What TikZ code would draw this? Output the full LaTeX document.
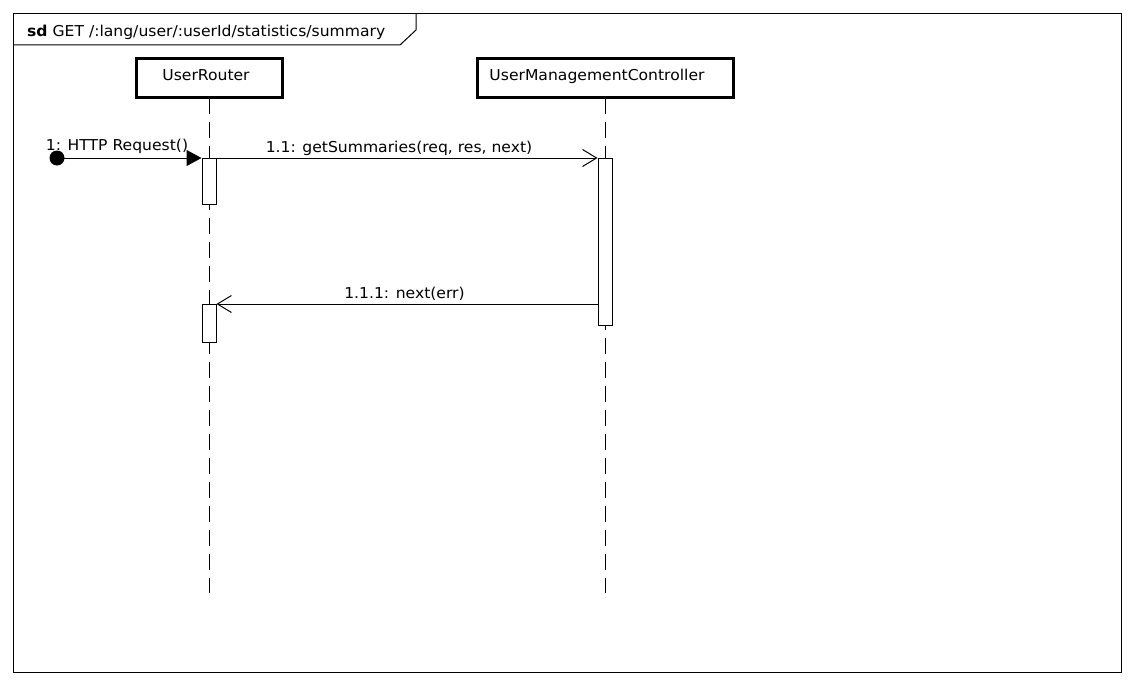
\documentclass[tikz,border=0pt]{standalone}
\usepackage{fontspec}
\setmainfont{DejaVu Sans}[FakeStretch=1.04]
\usetikzlibrary{arrows.meta}

\tikzset{
  thin line/.style={line width=1pt},
  objbox/.style={draw, line width=3pt, minimum width=146pt, minimum height=38.5pt, inner sep=0pt},
  lifeline/.style={line width=1pt, dash pattern=on 16pt off 8pt},
  actbar/.style={draw, fill=white, line width=1pt, minimum width=14pt, inner sep=0pt},
  msgtext/.style={anchor=base, inner sep=0pt},
  syncmsg/.style={line width=1pt, -{Triangle[length=15pt,width=16pt]}},
  asyncmsg/.style={line width=1pt, -{Straight Barb[length=14pt,width=17pt,line width=1pt]}},
}

\begin{document}
\begin{tikzpicture}[x=1pt,y=-1pt,font=\fontsize{15}{17}\selectfont]
\useasboundingbox (0,0) rectangle (1134,685);

% frame with its name tab
\draw[thin line] (13,14) rectangle (1121,672);
\draw[thin line] (13,45) -- (400,45) -- (416,30) -- (416,14);
\node[anchor=base west, inner sep=0pt] (title) at (27,36.5)
  {\textbf{sd} GET /:lang/user/:userId/statistics/summary};

% participants
\node[objbox] (ur) at (209.5,78.25) {};
\node[msgtext] (urname) at (206,80) {UserRouter};
\node[objbox, minimum width=256pt] (umc) at (605.5,78.25) {};
\node[msgtext] (umcname) at (597,80) {UserManagementController};

% lifelines
\coordinate (urend) at (209,593);
\coordinate (umcend) at (605,593);
\draw[lifeline] (209,97.5) -- (urend);
\draw[lifeline] (605,97.5) -- (umcend);

% activation bars
\node[actbar, minimum height=46pt, anchor=north] (ura1) at (209,158) {};
\node[actbar, minimum height=167pt, anchor=north] (umca) at (605,158) {};
\node[actbar, minimum height=38pt, anchor=north] (ura2) at (209,304) {};

% found message
\node[circle, fill, inner sep=0pt, minimum size=15pt] (start) at (57,158) {};
\draw[syncmsg] (start.center) -- (ura1.north west);
\node[msgtext] (m1) at (117,150) {1: HTTP Request()};

% call to the controller
\draw[asyncmsg] (ura1.north east) -- (umca.north west);
\node[msgtext] (m11) at (399,152.5) {1.1: getSummaries(req, res, next)};

% error passed back to the router
\coordinate (retfrom) at (598,304);
\draw[asyncmsg] (retfrom) -- (ura2.north east);
\node[msgtext] (m111) at (404.5,298.5) {1.1.1: next(err)};

\end{tikzpicture}
\end{document}
